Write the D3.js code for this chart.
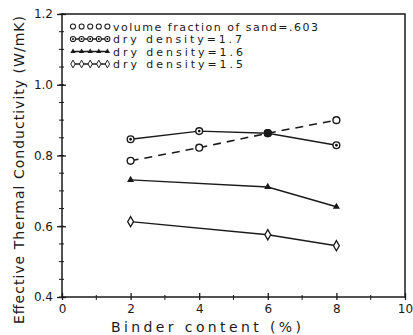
<!DOCTYPE html>
<html><head><meta charset="utf-8">
<script src="https://cdn.jsdelivr.net/npm/d3@7"></script>
<style>body{margin:0;background:#fff}svg{display:block}text{font-family:"DejaVu Sans",sans-serif;fill:#1a1a1a}</style>
</head><body>
<script>
const binder = [2, 4, 6, 8];
const binderShort = [2, 6, 8];
const sandValues = [0.785, 0.822, 0.863, 0.900];
const dry17Values = [0.846, 0.869, 0.863, 0.829];
const dry16Values = [0.731, 0.711, 0.655];
const dry15Values = [0.613, 0.576, 0.545];
const xTicks = [0, 2, 4, 6, 8, 10];
const yTicks = [0.4, 0.6, 0.8, 1.0, 1.2];
const legendLabels = ["volume fraction of sand=.603", "dry density=1.7", "dry density=1.6", "dry density=1.5"];

const W = 413, H = 335;
const svg = d3.select("body").append("svg").attr("width", W).attr("height", H);
const x = d3.scaleLinear().domain([0, 10]).range([62, 405]);
const y = d3.scaleLinear().domain([0.4, 1.2]).range([297, 14]);
const ink = "#1a1a1a";

// frame
svg.append("rect").attr("x", x(0)).attr("y", y(1.2)).attr("width", x(10) - x(0)).attr("height", y(0.4) - y(1.2))
  .attr("fill", "none").attr("stroke", ink).attr("stroke-width", 1.5);

// y axis
const yMinor = d3.range(0.4, 1.2001, 0.05);
svg.append("g").selectAll("line").data(yMinor).join("line")
  .attr("x1", x(0) - 3).attr("x2", x(0) + 2).attr("y1", d => y(d)).attr("y2", d => y(d))
  .attr("stroke", ink).attr("stroke-width", 1);
const yAxis = d3.axisLeft(y).tickValues(yTicks).tickFormat(d3.format(".1f")).tickSizeInner(5).tickSizeOuter(0).tickPadding(3);
const gy = svg.append("g").attr("transform", `translate(${x(0)},0)`).call(yAxis);
gy.select(".domain").remove();
gy.selectAll(".tick line").attr("x2", 4).attr("x1", -5).attr("stroke", ink).attr("stroke-width", 1.3);
gy.selectAll("text").attr("font-size", 12).attr("fill", ink).attr("x", -9);

// x axis
const xMinor = d3.range(1, 10, 2);
svg.append("g").selectAll("line").data(xMinor).join("line")
  .attr("x1", d => x(d)).attr("x2", d => x(d)).attr("y1", y(0.4) - 2).attr("y2", y(0.4) + 3)
  .attr("stroke", ink).attr("stroke-width", 1);
const xAxis = d3.axisBottom(x).tickValues(xTicks).tickFormat(d3.format("d")).tickSizeInner(4).tickSizeOuter(0).tickPadding(3);
const gx = svg.append("g").attr("transform", `translate(0,${y(0.4)})`).call(xAxis);
gx.select(".domain").remove();
gx.selectAll(".tick line").attr("y1", -4).attr("y2", 3).attr("stroke", ink).attr("stroke-width", 1.3);
gx.selectAll("text").attr("font-size", 12).attr("fill", ink);

// titles
svg.append("text").attr("x", 206).attr("y", 332).attr("text-anchor", "middle").attr("font-size", 14)
  .attr("textLength", 190).attr("lengthAdjust", "spacing").text("Binder content (%)");
svg.append("text").attr("transform", "translate(24,170) rotate(-90)").attr("text-anchor", "middle")
  .attr("font-size", 14).attr("textLength", 308).attr("lengthAdjust", "spacing").text("Effective Thermal Conductivity (W/mK)");

const line = d3.line().x(d => x(d[0])).y(d => y(d[1]));
const series = [
  {xs: binder, ys: sandValues, dash: "8,6", marker: "circle"},
  {xs: binder, ys: dry17Values, dash: null, marker: "circle2"},
  {xs: binderShort, ys: dry16Values, dash: null, marker: "triangle"},
  {xs: binderShort, ys: dry15Values, dash: null, marker: "diamond"}
];

function drawMarker(g, type, cx, cy, s) {
  if (type === "circle" || type === "circle2") {
    g.append("circle").attr("cx", cx).attr("cy", cy).attr("r", 3.4 * s).attr("fill", "#fff")
      .attr("stroke", ink).attr("stroke-width", 1.4 * s);
    if (type === "circle2") g.append("circle").attr("cx", cx).attr("cy", cy).attr("r", 1.4 * s).attr("fill", ink);
  } else if (type === "triangle") {
    g.append("path").attr("d", d3.symbol(d3.symbolTriangle, 22 * s * s)()).attr("transform", `translate(${cx},${cy})`).attr("fill", ink);
  } else {
    g.append("path").attr("d", d3.symbol(d3.symbolDiamond, 30 * s * s)()).attr("transform", `translate(${cx},${cy})`)
      .attr("fill", "#fff").attr("stroke", ink).attr("stroke-width", 1.3 * s);
  }
}

series.forEach(s => {
  const pts = s.xs.map((v, i) => [v, s.ys[i]]);
  svg.append("path").attr("d", line(pts)).attr("fill", "none").attr("stroke", ink)
    .attr("stroke-width", s.dash ? 1.6 : 1.4).attr("stroke-dasharray", s.dash);
  const g = svg.append("g");
  pts.forEach(p => drawMarker(g, s.marker, x(p[0]), y(p[1]), 1));
});
// overlapping point at 6 appears filled
svg.append("circle").attr("cx", x(6)).attr("cy", y(0.863)).attr("r", 3.8).attr("fill", ink);

// legend
const legY = [26.5, 39, 51.5, 64];
const legLen = [205, 129, 130, 130];
series.forEach((s, i) => {
  const g = svg.append("g");
  if (i > 0) g.append("line").attr("x1", 73).attr("x2", 108).attr("y1", legY[i]).attr("y2", legY[i]).attr("stroke", ink).attr("stroke-width", 1.4);
  for (let k = 0; k < 5; k++) drawMarker(g, s.marker, 73 + k * 8.6, legY[i], 0.75);
  svg.append("text").attr("x", 113).attr("y", legY[i] + 4).attr("font-size", 11)
    .attr("textLength", legLen[i]).attr("lengthAdjust", "spacing").text(legendLabels[i]);
});
</script>
</body></html>
